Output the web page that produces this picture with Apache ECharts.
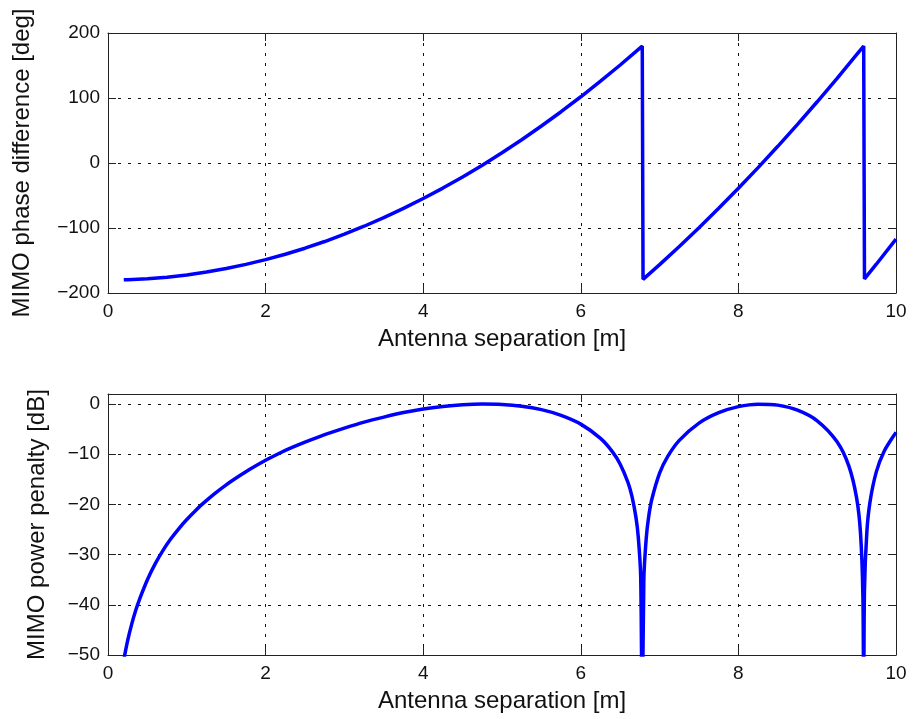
<!DOCTYPE html>
<html><head><meta charset="utf-8">
<script src="https://cdn.jsdelivr.net/npm/echarts@6/dist/echarts.min.js"></script>
<style>html,body{margin:0;padding:0;background:#fff}#c{width:914px;height:719px}</style>
</head><body><div id="c"></div>
<script>
// ---- data ----
const xAxisTitle = 'Antenna separation [m]';
const phaseTitle = 'MIMO phase difference [deg]';
const powerTitle = 'MIMO power penalty [dB]';

const phaseX = [0.2,0.25,0.5,0.75,1.0,1.25,1.5,1.75,2.0,2.25,2.5,2.75,3.0,3.25,3.5,3.75,4.0,4.25,4.5,4.75,5.0,5.25,5.5,5.75,6.0,6.25,6.5,6.75,6.78,6.79,7.0,7.25,7.5,7.75,8.0,8.25,8.5,8.75,9.0,9.25,9.5,9.59,9.6,9.75,10];
const phaseY = [-179.7,-179.5,-178.0,-175.6,-172.2,-167.8,-162.4,-156.0,-148.7,-140.4,-131.1,-120.8,-109.5,-97.3,-84.1,-69.9,-54.7,-38.6,-21.4,-3.3,15.8,35.8,56.9,78.9,101.9,125.9,150.8,176.8,179.9,-179.0,-156.3,-128.4,-99.6,-69.7,-38.9,-7.1,25.7,59.5,94.2,129.9,166.7,179.9,-178.4,-155.7,-117.0];

const powerX = [0.2,0.25,0.3,0.35,0.4,0.5,0.6,0.7,0.8,0.9,1.0,1.1,1.2,1.35,1.5,1.65,1.8,2.0,2.15,2.3,2.5,2.75,3.0,3.25,3.5,3.75,4.0,4.25,4.5,4.75,5.0,5.25,5.5,5.75,6.0,6.25,6.4,6.5,6.6,6.65,6.7,6.73,6.76,6.78,6.8,6.83,6.86,6.9,7.0,7.1,7.25,7.5,7.75,8.0,8.25,8.5,8.75,9.0,9.25,9.4,9.5,9.55,9.58,9.59,9.6,9.63,9.67,9.75,9.85,10];
const powerY = [-51.0,-47.1,-43.9,-41.2,-38.9,-35.0,-31.8,-29.1,-26.8,-24.8,-23.0,-21.4,-19.9,-17.9,-16.1,-14.5,-13.0,-11.2,-10.0,-8.9,-7.6,-6.1,-4.8,-3.6,-2.6,-1.7,-1.0,-0.5,-0.15,0,-0.08,-0.43,-1.12,-2.25,-4.0,-6.84,-9.47,-11.98,-15.68,-18.44,-22.58,-26.6,-34.4,-65,-34.9,-26.8,-22.6,-19.07,-13.76,-10.51,-7.23,-3.8,-1.72,-0.51,-0.02,-0.22,-1.23,-3.34,-7.47,-12.28,-18.7,-25.8,-38.3,-61,-37.0,-25.5,-19.5,-13.52,-9.39,-5.64];

// ---- chart ----
const FONT = '"Liberation Sans", Arial, sans-serif';
const AX = '#222';
const fmt = v => (v < 0 ? '\u2212' + Math.abs(v) : String(v));

function xAxes(g) {
  const base = {type:'value', gridIndex:g, min:0, max:10, interval:2};
  return [
    Object.assign({}, base, {position:'bottom',
      axisLine:{show:true, onZero:false, lineStyle:{color:AX, width:1}},
      axisTick:{show:true, inside:true, length:8, lineStyle:{color:AX}},
      axisLabel:{show:true, margin:9, color:'#111', fontSize:19, fontFamily:FONT, formatter:fmt},
      splitLine:{show:true, lineStyle:{color:'#111', type:[3,7], width:1}},
      name:xAxisTitle, nameLocation:'middle', nameGap:34,
      nameTextStyle:{color:'#111', fontSize:24, fontFamily:FONT}}),
    Object.assign({}, base, {position:'top',
      axisLine:{show:true, onZero:false, lineStyle:{color:AX, width:1}},
      axisTick:{show:true, inside:true, length:8, lineStyle:{color:AX}},
      axisLabel:{show:false}, splitLine:{show:false}})
  ];
}
function yAxes(g, min, max, interval, title, gap) {
  const base = {type:'value', gridIndex:g, min:min, max:max, interval:interval};
  return [
    Object.assign({}, base, {position:'left',
      axisLine:{show:true, onZero:false, lineStyle:{color:AX, width:1}},
      axisTick:{show:true, inside:true, length:8, lineStyle:{color:AX}},
      axisLabel:{show:true, margin:8, color:'#111', fontSize:19, fontFamily:FONT, showMaxLabel: max % interval === 0,
        formatter: v => (v % interval === 0 ? fmt(v) : '')},
      splitLine:{show:true, lineStyle:{color:'#111', type:[3,7], width:1}},
      name:title, nameLocation:'middle', nameRotate:90, nameGap:gap,
      nameTextStyle:{color:'#111', fontSize:24, fontFamily:FONT}}),
    Object.assign({}, base, {position:'right',
      axisLine:{show:true, onZero:false, lineStyle:{color:AX, width:1}},
      axisTick:{show:true, inside:true, length:8, lineStyle:{color:AX}},
      axisLabel:{show:false}, splitLine:{show:false}})
  ];
}

const chart = echarts.init(document.getElementById('c'), null, {renderer:'canvas'});
chart.setOption({
  animation:false,
  backgroundColor:'#fff',
  grid:[
    {left:108, top:33, width:788, height:260, outerBoundsMode:'none', containLabel:false},
    {left:108, top:394, width:788, height:261, outerBoundsMode:'none', containLabel:false}
  ],
  xAxis: xAxes(0).concat(xAxes(1)),
  yAxis: yAxes(0, -200, 200, 100, phaseTitle, 74).concat(yAxes(1, -50, 2, 10, powerTitle, 59)),
  series:[
    {type:'line', xAxisIndex:0, yAxisIndex:0, showSymbol:false, clip:true,
     lineStyle:{color:'#0000ff', width:3.5}, itemStyle:{color:'#0000ff'},
     data: phaseX.map((x,i)=>[x, phaseY[i]])},
    {type:'line', xAxisIndex:2, yAxisIndex:2, showSymbol:false, clip:true, smooth:0.3,
     lineStyle:{color:'#0000ff', width:3.5}, itemStyle:{color:'#0000ff'},
     data: powerX.map((x,i)=>[x, powerY[i]])}
  ]
});
</script>
</body></html>
